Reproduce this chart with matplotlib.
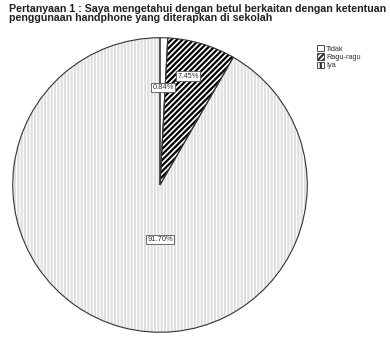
import matplotlib
matplotlib.use("Agg")
import matplotlib.pyplot as plt
import numpy as np

plt.rcParams.update({
    "font.family": ["Liberation Sans", "DejaVu Sans"],
    "hatch.linewidth": 1.6,
})

categories = ["Tidak", "Ragu-ragu", "Iya"]
percentages = [0.84, 7.45, 91.70]
title = ("Pertanyaan 1 : Saya mengetahui dengan betul berkaitan dengan ketentuan\n"
         "penggunaan handphone yang diterapkan di sekolah")

hatches = [None, "//////", "|||||"]
hatch_colors = ["white", "black", "#e0e0e0"]

W, H = 390, 338
fig = plt.figure(figsize=(W / 100, H / 100), dpi=100)
fig.patch.set_facecolor("white")

# pie: radius 148 px centred at (160, 185) px from top-left
cx, cy, r = 160, 185, 148
ax = fig.add_axes([(cx - r) / W, (H - cy - r) / H, 2 * r / W, 2 * r / H])

# fill layer with coloured hatching
wedges, _ = ax.pie(percentages, startangle=90, counterclock=False, radius=1,
                   wedgeprops=dict(facecolor="white", linewidth=0))
for w, h, hc in zip(wedges, hatches, hatch_colors):
    if h:
        w.set_hatch(h)
        w.set_edgecolor(hc)

# outline layer
ax.pie(percentages, startangle=90, counterclock=False, radius=1,
       wedgeprops=dict(facecolor="none", edgecolor="#333333", linewidth=0.8))

ax.set_xlim(-1.005, 1.005)
ax.set_ylim(-1.005, 1.005)
ax.set_aspect("equal")
ax.axis("off")

# percentage labels
label_pos = {"Tidak": (0.02, 0.66), "Ragu-ragu": (0.19, 0.74), "Iya": (0.0, -0.37)}
for cat, pct in zip(categories, percentages):
    x, y = label_pos[cat]
    ax.text(x, y, f"{pct:.2f}%", ha="center", va="center", fontsize=5.4,
            color="#333333",
            bbox=dict(boxstyle="square,pad=0.15", facecolor="white",
                      edgecolor="#555555", linewidth=0.6))

fig.text(9 / W, 1 - 4 / H, title, ha="left", va="top", fontsize=7.7,
         fontweight="bold", color="#222222", linespacing=0.9)

# legend
handles = []
for cat, h, hc in zip(categories, hatches, hatch_colors):
    p = plt.Rectangle((0, 0), 1, 1, facecolor="white", edgecolor="#333333",
                      linewidth=0.6, hatch=h if h != "|||||" else "||")
    handles.append(p)
leg = fig.legend(handles, categories, loc="upper left",
                 bbox_to_anchor=(312 / W, 1 - 40 / H), frameon=False,
                 fontsize=5.3, handlelength=0.9, handleheight=0.9,
                 handletextpad=0.3, labelspacing=0.1, borderpad=0.2)
for t in leg.get_texts():
    t.set_color("#333333")

fig.savefig("out.png", dpi=100)
